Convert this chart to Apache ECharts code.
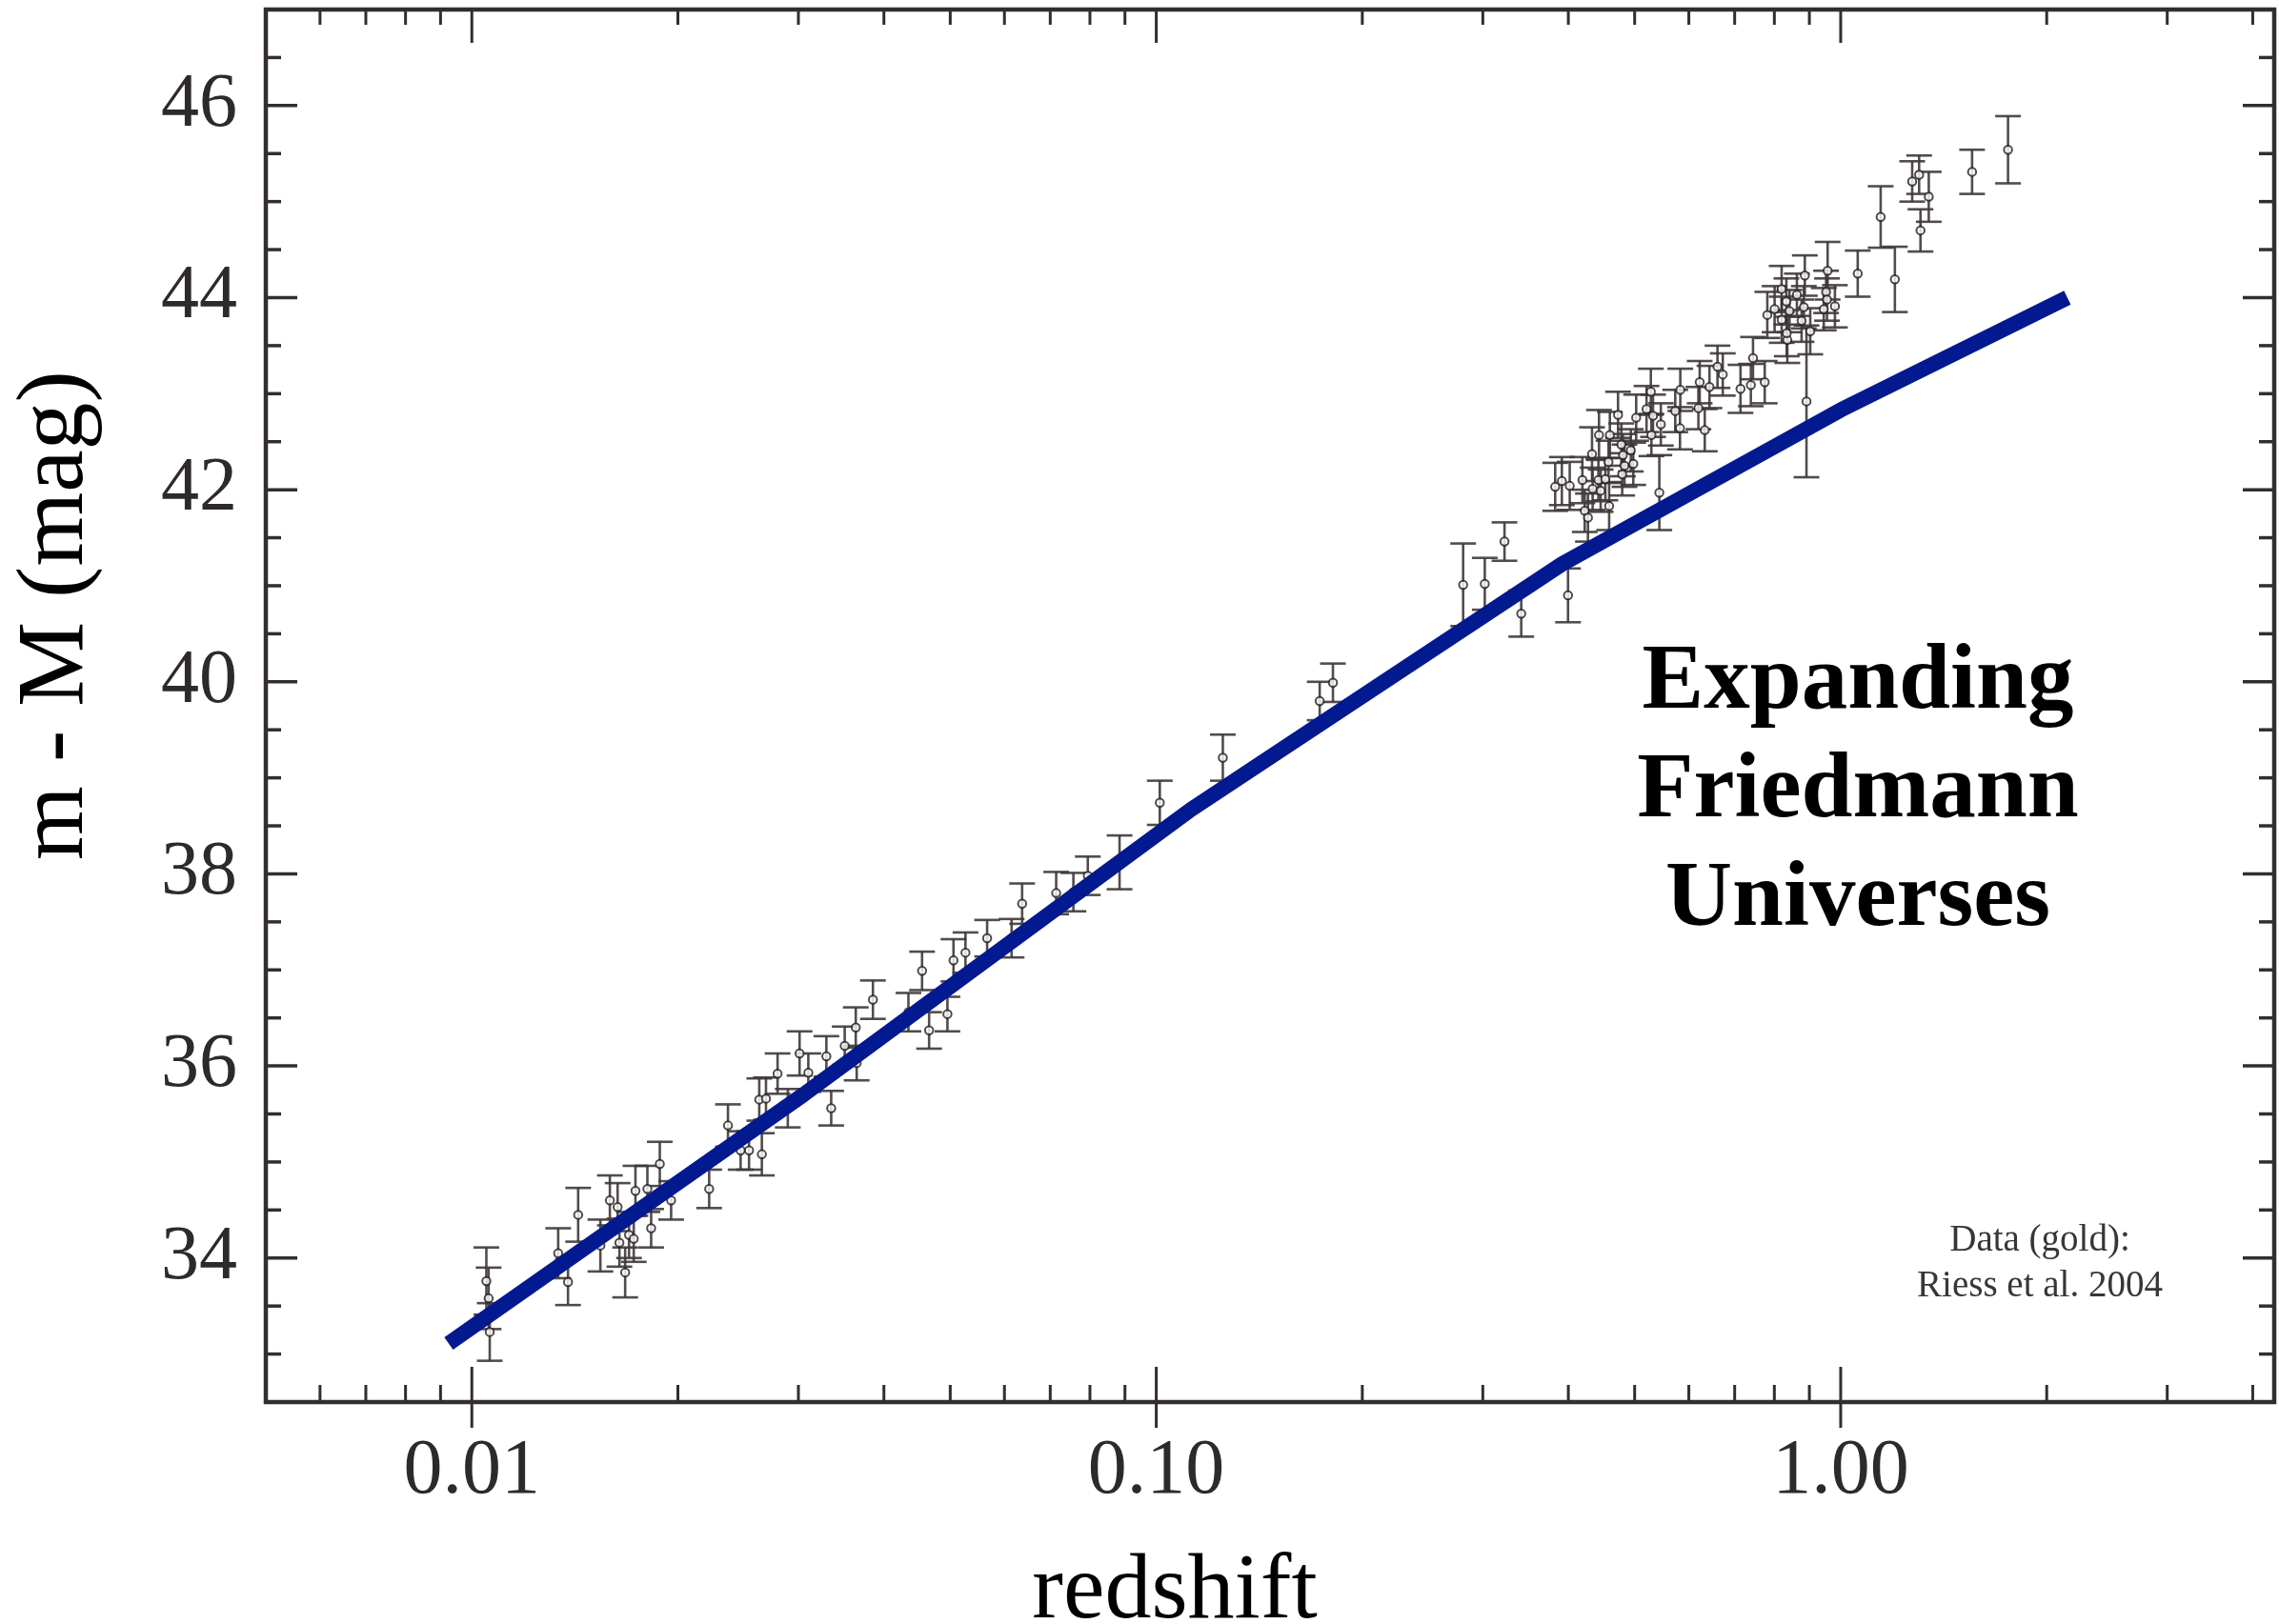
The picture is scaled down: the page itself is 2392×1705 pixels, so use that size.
<!DOCTYPE html>
<html>
<head>
<meta charset="utf-8">
<script src="https://cdn.jsdelivr.net/npm/echarts@6/dist/echarts.min.js"></script>
<style>
html, body { margin: 0; padding: 0; background: #ffffff; }
#chart { width: 2392px; height: 1705px; }
</style>
</head>
<body>
<div id="chart"></div>
<script>
// ---- Data ----
const redshift = [0.0105,0.01058,0.01062,0.01337,0.01382,0.0143,0.01541,0.01591,0.01633,0.01643,0.01675,0.01697,0.01724,0.01734,0.01805,0.01828,0.01882,0.01955,0.02222,0.02367,0.0247,0.02541,0.02653,0.0263,0.0269,0.02797,0.02895,0.03012,0.03102,0.03296,0.0335,0.03506,0.03639,0.0365,0.03855,0.04344,0.04548,0.04657,0.04953,0.05055,0.05263,0.05661,0.06147,0.06368,0.07141,0.07567,0.07943,0.08838,0.1012,0.1251,0.1733,0.1812,0.2808,0.302,0.3227,0.3414,0.3996,
  0.3827,0.3914,0.4019,0.4194,0.4227,0.4273,0.4332,0.4341,0.4426,0.446,0.4435,0.4531,0.4579,0.4589,0.46,0.4728,0.4781,0.4807,0.4832,0.4795,0.4936,0.4977,0.5026,0.5204,0.528,0.529,0.5319,0.5461,0.5433,0.5732,0.5824,0.583,0.6196,0.6223,0.633,0.6431,0.6607,0.6726,0.7139,0.7392,0.7446,0.7745,0.8357,0.8913,0.7813,0.8007,0.8198,0.833,0.82,0.834,0.8418,0.863,0.8834,0.8864,0.8768,0.9027,0.9447,0.9521,0.955,0.957,0.9808,1.059,1.144,1.2,1.272,1.302,1.345,1.308,1.556,1.756];
const distanceModulus = [33.76,33.58,33.23,34.05,33.75,34.45,34.13,34.60,34.53,34.16,33.85,34.24,34.20,34.70,34.72,34.31,34.98,34.60,34.72,35.38,35.12,35.12,35.08,35.65,35.66,35.92,35.56,36.13,35.93,36.10,35.56,36.21,36.40,36.03,36.69,36.56,36.99,36.37,36.54,37.10,37.18,37.33,37.33,37.69,37.80,37.81,37.98,38.12,38.74,39.21,39.80,39.99,41.01,41.02,41.46,40.71,40.90,
  42.03,42.09,42.04,42.10,41.78,41.71,42.37,42.01,42.10,41.99,42.57,42.11,42.29,41.83,42.57,42.78,42.47,42.36,42.25,42.16,42.41,42.27,42.75,42.84,43.02,42.57,42.77,42.68,41.97,42.82,42.64,43.04,42.85,43.12,42.62,43.07,43.28,43.20,43.05,43.09,43.37,43.12,43.56,42.92,43.82,43.88,44.09,43.96,43.77,43.63,43.86,44.03,43.90,44.23,43.76,43.65,43.88,44.06,43.98,44.28,43.91,44.25,44.84,44.19,45.21,45.28,45.05,44.70,45.31,45.54];
const modulusError = [0.35,0.32,0.30,0.26,0.24,0.28,0.27,0.26,0.25,0.25,0.26,0.24,0.24,0.26,0.24,0.20,0.23,0.20,0.20,0.22,0.20,0.20,0.22,0.22,0.22,0.21,0.20,0.23,0.20,0.21,0.18,0.20,0.21,0.18,0.20,0.20,0.20,0.19,0.18,0.22,0.21,0.19,0.20,0.21,0.22,0.20,0.20,0.28,0.23,0.24,0.20,0.20,0.43,0.27,0.20,0.24,0.28,
  0.25,0.25,0.25,0.24,0.22,0.25,0.28,0.22,0.22,0.22,0.26,0.22,0.22,0.25,0.24,0.24,0.22,0.22,0.22,0.22,0.22,0.22,0.24,0.24,0.24,0.22,0.22,0.22,0.39,0.22,0.22,0.22,0.22,0.22,0.22,0.22,0.22,0.22,0.25,0.22,0.22,0.22,0.24,0.79,0.24,0.24,0.24,0.24,0.24,0.24,0.22,0.22,0.22,0.21,0.22,0.24,0.22,0.22,0.22,0.30,0.22,0.24,0.32,0.34,0.21,0.20,0.26,0.22,0.23,0.35];

// Friedmann model curve
const modelRedshift = [0.00925, 0.0305, 0.1124, 0.3924, 1.0, 2.144];
const modelModulus  = [33.11, 35.70, 38.67, 41.23, 42.83, 44.00];

// Axes / ticks
const xRange = [0.005, 4.3];
const yRange = [32.5, 47];
const xMajorTicks = [0.01, 0.1, 1];
const xMinorTicks = [0.006,0.007,0.008,0.009,0.02,0.03,0.04,0.05,0.06,0.07,0.08,0.09,0.2,0.3,0.4,0.5,0.6,0.7,0.8,0.9,2,3,4];
const yMajorTicks = [34, 36, 38, 40, 42, 44, 46];
const yMinorTicks = [33,33.5,34.5,35,35.5,36.5,37,37.5,38.5,39,39.5,40.5,41,41.5,42.5,43,43.5,44.5,45,45.5,46.5];

const xTitle = 'redshift';
const yTitle = 'm - M (mag)';
const annotation = 'Expanding\nFriedmann\nUniverses';
const credit = 'Data (gold):\nRiess et al. 2004';

// ---- Styling ----
const AXIS_COLOR = '#332d2e';
const SERIF = '"Liberation Serif", "Times New Roman", serif';

function tickSeries(values, axis, lens) {
  return {
    type: 'custom',
    silent: true,
    clip: false,
    z: 6,
    data: values.map(v => axis === 'x' ? [v, yRange[0]] : [xRange[0], v]),
    encode: { x: 0, y: 1 },
    renderItem(params, api) {
      const cs = params.coordSys;
      const p = api.coord([api.value(0), api.value(1)]);
      const style = { stroke: AXIS_COLOR, lineWidth: axis === 'x' ? 3 : 3.5 };
      const ch = [];
      if (axis === 'x') {
        const x = p[0], yb = cs.y + cs.height, yt = cs.y;
        ch.push({ type: 'line', shape: { x1: x, y1: yb + lens.out, x2: x, y2: yb - lens.bottom }, style });
        ch.push({ type: 'line', shape: { x1: x, y1: yt, x2: x, y2: yt + lens.top }, style });
      } else {
        const y = p[1], xl = cs.x, xr = cs.x + cs.width;
        ch.push({ type: 'line', shape: { x1: xl, y1: y, x2: xl + lens.left, y2: y }, style });
        ch.push({ type: 'line', shape: { x1: xr, y1: y, x2: xr - lens.right, y2: y }, style });
      }
      return { type: 'group', children: ch };
    }
  };
}

const chart = echarts.init(document.getElementById('chart'), null, { renderer: 'canvas' });

chart.setOption({
  animation: false,
  backgroundColor: '#ffffff',
  grid: {
    left: 279, right: 5, top: 10, bottom: 233,
    show: true, borderColor: AXIS_COLOR, borderWidth: 4.5, backgroundColor: 'transparent'
  },
  xAxis: {
    type: 'log', logBase: 10, min: xRange[0], max: xRange[1],
    axisLine: { show: false },
    axisTick: { show: false },
    splitLine: { show: false },
    minorTick: { show: false },
    axisLabel: {
      margin: 32,
      fontFamily: SERIF, fontSize: 82, color: '#2e2a2b',
      formatter: v => {
        const l = Math.log10(v);
        return Math.abs(l - Math.round(l)) < 1e-6 ? v.toFixed(2) : '';
      }
    }
  },
  yAxis: {
    type: 'value', min: yRange[0], max: yRange[1], interval: 0.5,
    axisLine: { show: false },
    axisTick: { show: false },
    splitLine: { show: false },
    axisLabel: {
      margin: 30,
      fontFamily: SERIF, fontSize: 80, color: '#2e2a2b',
      formatter: v => (Math.abs(v % 2) < 1e-9 ? String(v) : '')
    }
  },
  graphic: [
    {
      type: 'text', x: 1233, y: 1672, silent: true,
      style: { text: xTitle, font: '98px ' + SERIF, fill: '#000',
        align: 'center', verticalAlign: 'middle', textAlign: 'center', textVerticalAlign: 'middle' }
    },
    {
      type: 'text', x: 60, y: 646, rotation: Math.PI / 2, silent: true,
      style: { text: yTitle, font: '100px ' + SERIF, fill: '#000',
        align: 'center', verticalAlign: 'middle', textAlign: 'center', textVerticalAlign: 'middle' }
    },
    {
      type: 'text', x: 1950, y: 832, silent: true,
      style: { text: annotation, font: 'bold 97px ' + SERIF, fill: '#000', lineHeight: 114,
        align: 'center', verticalAlign: 'middle', textAlign: 'center', textVerticalAlign: 'middle' }
    },
    {
      type: 'text', x: 2141, y: 1327, silent: true,
      style: { text: credit, font: '39px ' + SERIF, fill: '#3a3536', lineHeight: 48,
        align: 'center', verticalAlign: 'middle', textAlign: 'center', textVerticalAlign: 'middle' }
    }
  ],
  series: [
    tickSeries(xMajorTicks, 'x', { bottom: 37, out: 27, top: 35 }),
    tickSeries(xMinorTicks, 'x', { bottom: 18, out: 0, top: 16 }),
    tickSeries(yMajorTicks, 'y', { left: 33, right: 33 }),
    tickSeries(yMinorTicks, 'y', { left: 16, right: 16 }),
    {
      name: 'error',
      type: 'custom',
      silent: true,
      z: 3,
      data: redshift.map((z, i) => [z, distanceModulus[i] - modulusError[i], distanceModulus[i] + modulusError[i]]),
      encode: { x: 0, y: [1, 2] },
      renderItem(params, api) {
        const lo = api.coord([api.value(0), api.value(1)]);
        const hi = api.coord([api.value(0), api.value(2)]);
        const w = 13.5;
        const style = { stroke: '#3f393a', lineWidth: 2.6, opacity: 0.9 };
        return {
          type: 'group',
          children: [
            { type: 'line', shape: { x1: lo[0], y1: lo[1], x2: hi[0], y2: hi[1] }, style },
            { type: 'line', shape: { x1: lo[0] - w, y1: lo[1], x2: lo[0] + w, y2: lo[1] }, style },
            { type: 'line', shape: { x1: hi[0] - w, y1: hi[1], x2: hi[0] + w, y2: hi[1] }, style }
          ]
        };
      }
    },
    {
      name: 'Riess gold',
      type: 'scatter',
      z: 4,
      symbol: 'emptyCircle',
      symbolSize: 8.5,
      itemStyle: { color: '#221d1e', borderWidth: 3 },
      data: redshift.map((z, i) => [z, distanceModulus[i]])
    },
    {
      name: 'Friedmann',
      type: 'line',
      z: 8,
      showSymbol: false,
      symbol: 'none',
      smooth: false,
      lineStyle: { color: '#02198f', width: 16, cap: 'butt', join: 'round' },
      data: modelRedshift.map((z, i) => [z, modelModulus[i]])
    }
  ]
});
</script>
</body>
</html>
